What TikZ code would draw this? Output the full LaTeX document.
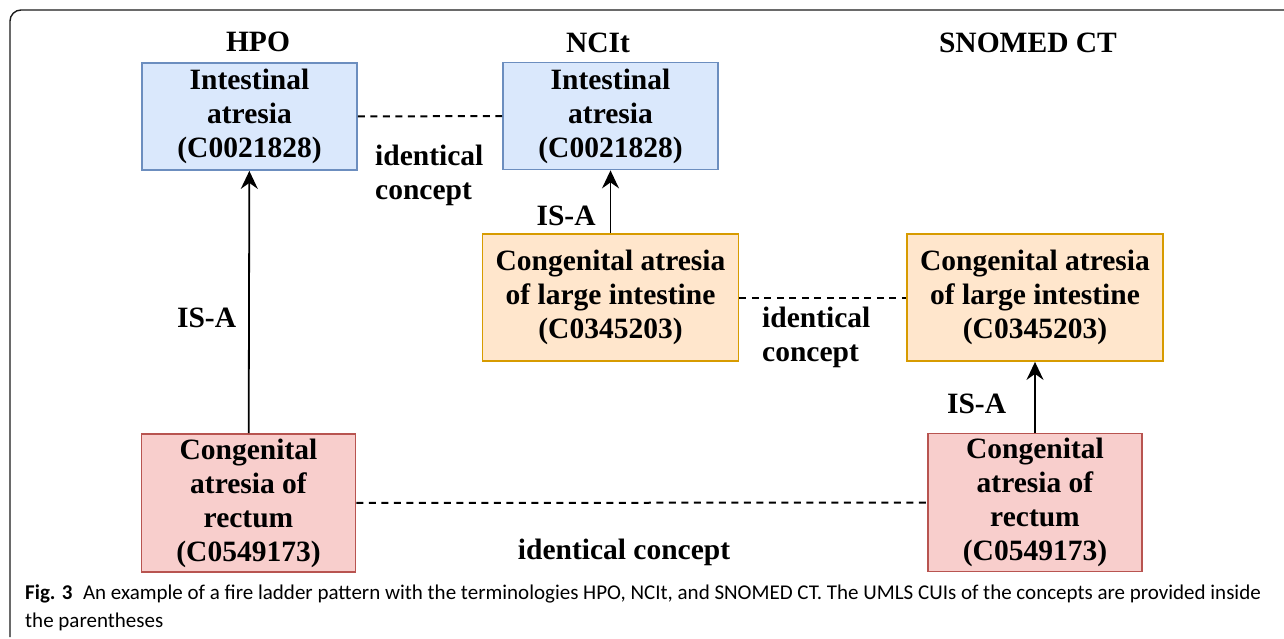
\documentclass[tikz,border=0pt]{standalone}
\usepackage{fontspec}
\setmainfont{Liberation Serif}[BoldFont={Liberation Serif Bold}]
\newfontfamily\boxfont{Liberation Serif Bold}
\newfontfamily\capfont{Carlito}
\usetikzlibrary{positioning, arrows.meta}
\definecolor{blfill}{HTML}{DAE8FC}
\definecolor{bldraw}{HTML}{6C8EBF}
\definecolor{orfill}{HTML}{FFE6CC}
\definecolor{ordraw}{HTML}{D79B00}
\definecolor{rdfill}{HTML}{F8CECC}
\definecolor{rddraw}{HTML}{B85450}
\definecolor{frame}{HTML}{1A1A1A}

\begin{document}
\begin{tikzpicture}[x=1pt, y=-1pt, font=\boxfont\fontsize{29.5}{34}\selectfont,
    concept/.style={draw, line width=1.8pt, align=center, inner sep=0pt},
    bluebox/.style={concept, fill=blfill, draw=bldraw, minimum width=215, minimum height=107},
    orangebox/.style={concept, fill=orfill, draw=ordraw, minimum width=256, minimum height=127},
    redbox/.style={concept, fill=rdfill, draw=rddraw, minimum width=214, minimum height=138},
    isa/.style={-{Stealth[length=18pt, width=17pt, inset=6pt]}, line width=1.8pt},
    same/.style={dash pattern=on 7pt off 5.5pt, line width=2pt},
    lbl/.style={inner sep=0pt}]
        \useasboundingbox (0,0) rectangle (1284,639);
        \draw[frame, line width=1.4pt, rounded corners=11pt] (10,637) -- (10,10) -- (1284,10);

        \node[lbl] (hpo) at (258,42) {HPO};
        \node[lbl] (ncit) at (598,43) {NCIt};
        \node[lbl] (snomed) at (1028,43) {SNOMED CT};

        \node[bluebox] (hpoTop) at (249.5,116.5) {Intestinal\\atresia\\(C0021828)};
        \node[bluebox] (ncitTop) at (610.5,116) {Intestinal\\atresia\\(C0021828)};
        \node[orangebox] (ncitMid) at (610.5,297.5) {Congenital atresia\\of large intestine\\(C0345203)};
        \node[orangebox] (snoMid) at (1035,297.5) {Congenital atresia\\of large intestine\\(C0345203)};
        \node[redbox] (hpoLow) at (248.5,503) {Congenital\\atresia of\\rectum\\(C0549173)};
        \node[redbox] (snoLow) at (1035,502.5) {Congenital\\atresia of\\rectum\\(C0549173)};

        \draw[isa] (hpoLow) -- node[lbl, pos=0.44, left=12pt] (isa1) {IS-A} (hpoTop);
        \draw[isa] (ncitMid) -- node[lbl, pos=0.27, left=14pt] (isa2) {IS-A} (ncitTop);
        \draw[isa] (snoLow) -- node[lbl, pos=0.40, left=28pt] (isa3) {IS-A} (snoMid);

        \draw[same] (hpoTop) -- (ncitTop);
        \draw[same] (ncitMid) -- (snoMid);
        \draw[same] (hpoLow) -- (snoLow);
        \node[lbl, anchor=west, align=left] (same1) at (375,175) {identical\\concept};
        \node[lbl, anchor=west, align=left] (same2) at (762,337) {identical\\concept};
        \node[lbl] (same3) at (624,552) {identical concept};

        \node[lbl, anchor=base west, font=\capfont\fontsize{21}{28}\selectfont] (cap1) at (25,599)
          {\textbf{Fig. 3}\enspace An example of a fire ladder pattern with the terminologies HPO, NCIt, and SNOMED CT. The UMLS CUIs of the concepts are provided inside};
        \node[lbl, anchor=base west, font=\capfont\fontsize{21}{28}\selectfont] (cap2) at (25,627) {the parentheses};
      \end{tikzpicture}
\end{document}
